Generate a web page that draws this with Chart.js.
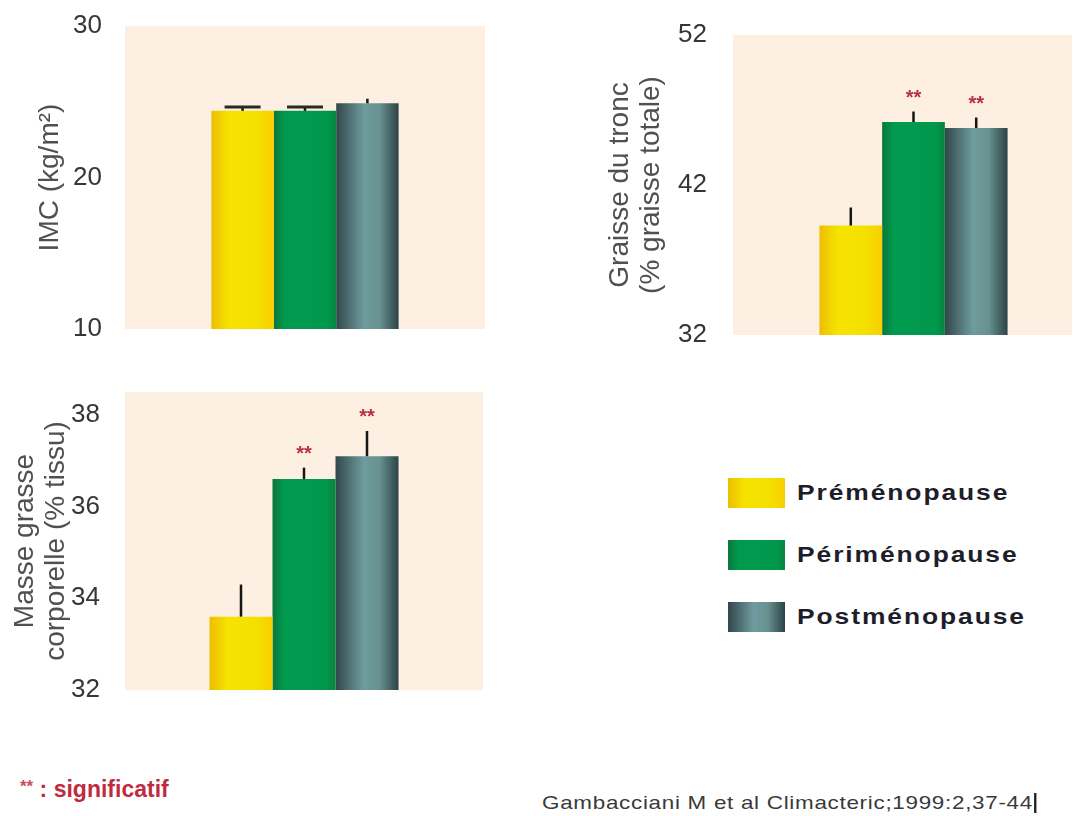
<!DOCTYPE html>
<html>
<head>
<meta charset="utf-8">
<script src="https://cdn.jsdelivr.net/npm/chart.js@4.4.0/dist/chart.umd.min.js"></script>
<style>
  html, body { margin:0; padding:0; background:#ffffff; width:1083px; height:816px; overflow:hidden;
    font-family:"Liberation Sans", Arial, sans-serif; }
  canvas { position:absolute; }
  #legend { position:absolute; left:728px; top:478px; }
  .item { position:absolute; left:0; height:30px; white-space:nowrap; }
  .swatch { position:absolute; left:0; top:0; width:57px; height:30px; }
  .lbl { position:absolute; left:69px; top:0; line-height:30px; font-weight:bold; font-size:22px;
    letter-spacing:1.6px; color:#1e1e2a; transform:scaleX(1.2); transform-origin:left center; }
  #sig { position:absolute; left:20px; top:776px; white-space:nowrap; color:#bf2b3e; }
  #sig .st { font-size:17px; font-weight:bold; color:#c4505c; vertical-align:5px; }
  #sig .tx { font-size:23px; font-weight:bold; }
  #cite { position:absolute; left:542px; top:793px; white-space:nowrap; font-size:19px; color:#3a3a3a;
    letter-spacing:0.6px; border-right:2px solid #222; padding-right:1px; line-height:20px;
    transform:scaleX(1.18); transform-origin:left center; }
</style>
</head>
<body>
<canvas id="c1" width="500" height="350" style="left:0px;top:0px"></canvas>
<canvas id="c2" width="523" height="360" style="left:560px;top:0px"></canvas>
<canvas id="c3" width="500" height="340" style="left:0px;top:370px"></canvas>
<div id="legend"></div>
<div id="sig"><span class="st">**</span><span class="tx"> : significatif</span></div>
<div id="cite">Gambacciani M et al Climacteric;1999:2,37-44</div>

<script>
// ---------- data ----------
const seriesNames = ['Préménopause', 'Périménopause', 'Postménopause'];
const category = [''];

const imcValues = [24.4, 24.4, 24.9];
const imcErrTop = [24.65, 24.65, 25.2];
const imcSig = [false, false, false];
const imcTicks = [10, 20, 30];

const troncValues = [39.3, 46.2, 45.8];
const troncErrTop = [40.5, 46.9, 46.5];
const troncSig = [false, true, true];
const troncTicks = [32, 42, 52];

const masseValues = [33.6, 36.6, 37.1];
const masseErrTop = [34.3, 36.85, 37.65];
const masseSig = [false, true, true];
const masseTicks = [32, 34, 36, 38];

// ---------- styles ----------
const solidColors = ['#F4DA00', '#009A4E', '#557D80'];
const gradStops = [
  [[0, '#EDBE00'], [0.3, '#F6E300'], [0.75, '#F4E000'], [1, '#F9CE00']],
  [[0, '#0A763B'], [0.18, '#009A4E'], [0.85, '#00984C'], [1, '#06843F']],
  [[0, '#33474A'], [0.45, '#6F9C9F'], [0.7, '#67918F'], [1, '#2B4346']]
];

function barFill(di) {
  return function (ctx) {
    const ch = ctx.chart;
    const a = ch.chartArea;
    const xs = ch.scales && ch.scales.x;
    if (!a || !xs) return solidColors[di];
    const cp = ch.options.datasets.bar.categoryPercentage;
    const center = xs.getPixelForValue(0);
    const groupW = (a.right - a.left) * cp;
    const bw = groupW / 3;
    const left = center - groupW / 2 + di * bw;
    const g = ch.ctx.createLinearGradient(left, 0, left + bw, 0);
    gradStops[di].forEach(s => g.addColorStop(s[0], s[1]));
    return g;
  };
}

const bgPlugin = {
  id: 'plotBg',
  beforeDraw(ch, args, opts) {
    const a = ch.chartArea, c = ch.ctx;
    const l = a.left - (opts.extendLeft || 0);
    const r = a.right + (opts.extendRight || 0);
    c.save();
    c.fillStyle = '#FDF0E2';
    c.fillRect(l, a.top, r - l, a.bottom - a.top);
    c.restore();
  }
};

const errPlugin = {
  id: 'errBars',
  afterDatasetsDraw(ch, args, opts) {
    const ys = ch.scales.y, c = ch.ctx;
    c.save();
    ch.data.datasets.forEach((ds, i) => {
      const el = ch.getDatasetMeta(i).data[0];
      if (!el) return;
      const topPx = ys.getPixelForValue(opts.errTop[i]);
      c.strokeStyle = '#151515';
      c.lineWidth = 2.5;
      c.beginPath();
      c.moveTo(el.x, el.y);
      c.lineTo(el.x, topPx);
      c.stroke();
      const cw = opts.caps[i];
      if (cw > 0) {
        c.lineWidth = 3;
        c.strokeStyle = '#2a2a20';
        c.beginPath();
        c.moveTo(el.x - cw / 2, topPx);
        c.lineTo(el.x + cw / 2, topPx);
        c.stroke();
      }
      if (opts.sig[i]) {
        c.fillStyle = '#B5323F';
        c.font = 'bold 20px "Liberation Sans", Arial, sans-serif';
        c.textAlign = 'center';
        c.textBaseline = 'alphabetic';
        c.fillText('**', el.x, topPx - 8);
      }
    });
    c.restore();
  }
};

function makeChart(id, cfg) {
  return new Chart(document.getElementById(id), {
    type: 'bar',
    data: {
      labels: category,
      datasets: seriesNames.map((n, i) => ({
        label: n,
        data: [cfg.values[i]],
        backgroundColor: barFill(i),
        borderWidth: 0
      }))
    },
    options: {
      responsive: false,
      animation: false,
      events: [],
      layout: { padding: cfg.pad },
      datasets: { bar: { categoryPercentage: cfg.cp, barPercentage: 1 } },
      plugins: {
        legend: { display: false },
        tooltip: { enabled: false },
        plotBg: cfg.bg || {},
        errBars: { errTop: cfg.errTop, sig: cfg.sig, caps: cfg.caps }
      },
      scales: {
        x: { display: false },
        y: {
          min: cfg.min, max: cfg.max,
          grid: { display: false },
          border: { display: false },
          afterBuildTicks: s => { s.ticks = cfg.ticks.map(v => ({ value: v })); },
          afterFit: s => { s.width = cfg.yWidth; s.paddingTop = 0; s.paddingBottom = 0; },
          ticks: {
            padding: cfg.tickPad,
            color: '#363636',
            font: { family: '"Liberation Sans", Arial, sans-serif', size: 26 }
          },
          title: {
            display: true,
            text: cfg.title,
            color: '#505050',
            font: { family: '"Liberation Sans", Arial, sans-serif', size: 28, lineHeight: 1.1 },
            padding: { top: cfg.titlePad, bottom: 0 }
          }
        }
      }
    },
    plugins: [bgPlugin, errPlugin]
  });
}

makeChart('c1', {
  values: imcValues, errTop: imcErrTop, sig: imcSig, ticks: imcTicks, caps: [36, 36, 0],
  min: 10, max: 30, cp: 0.52,
  pad: { top: 26, bottom: 21, right: 15, left: 0 },
  yWidth: 125, tickPad: 15, titlePad: 35,
  title: 'IMC (kg/m²)'
});

makeChart('c2', {
  values: troncValues, errTop: troncErrTop, sig: troncSig, ticks: troncTicks, caps: [0, 0, 0],
  min: 32, max: 52, cp: 0.555,
  pad: { top: 35, bottom: 25, right: 0, left: 0 },
  yWidth: 184, tickPad: 29, titlePad: 45,
  bg: { extendLeft: 11, extendRight: -11 },
  title: ['Graisse du tronc', '(% graisse totale)']
});

makeChart('c3', {
  values: masseValues, errTop: masseErrTop, sig: masseSig, ticks: masseTicks, caps: [0, 0, 0],
  min: 32, max: 38.5, cp: 0.528,
  pad: { top: 22, bottom: 20, right: 17, left: 0 },
  yWidth: 125, tickPad: 17, titlePad: 10,
  title: ['Masse grasse', 'corporelle (% tissu)']
});

// ---------- legend (HTML) ----------
const legendEl = document.getElementById('legend');
seriesNames.forEach((n, i) => {
  const it = document.createElement('div');
  it.className = 'item';
  it.style.top = (i * 62) + 'px';
  const sw = document.createElement('div');
  sw.className = 'swatch';
  sw.style.background = 'linear-gradient(to right,' +
    gradStops[i].map(s => s[1] + ' ' + Math.round(s[0] * 100) + '%').join(',') + ')';
  const lb = document.createElement('div');
  lb.className = 'lbl';
  lb.textContent = n;
  it.appendChild(sw);
  it.appendChild(lb);
  legendEl.appendChild(it);
});
</script>
</body>
</html>
